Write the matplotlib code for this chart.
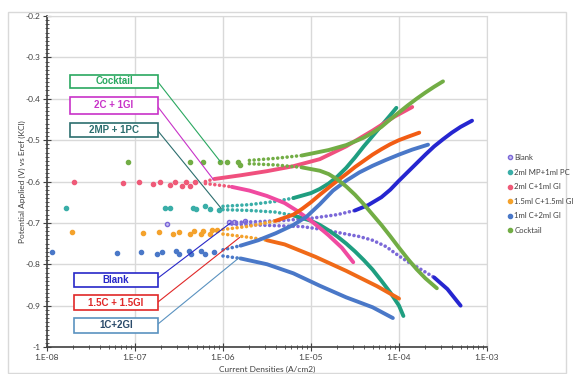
import numpy as np
import matplotlib
matplotlib.use('Agg')
import matplotlib.pyplot as plt
from matplotlib.patches import Rectangle
from matplotlib.lines import Line2D
from matplotlib.ticker import LogLocator, MultipleLocator, NullFormatter

plt.rcParams['font.family'] = ['Lato', 'DejaVu Sans']
plt.rcParams['axes.unicode_minus'] = False

W, H = 573, 374

# values: log10(current density), potential (V)
# Blank
blank_sparse_logi = [-6.64, -5.93, -5.88, -5.75]
blank_sparse_e = [-0.703, -0.699, -0.699, -0.695]
blank_an_logi = [-5.9, -5.6, -5.3, -5.0, -4.7, -4.5, -4.35, -4.2, -4.1, -4.0, -3.9, -3.8,
                 -3.7, -3.6, -3.5, -3.4, -3.3, -3.17]
blank_an_e = [-0.699, -0.697, -0.694, -0.689, -0.680, -0.670, -0.657, -0.638, -0.620, -0.598,
              -0.577, -0.556, -0.535, -0.515, -0.498, -0.482, -0.468, -0.453]
blank_ca_logi = [-5.9, -5.5, -5.1, -4.9, -4.75, -4.6, -4.45, -4.3, -4.15, -4.0, -3.9, -3.8,
                 -3.7, -3.6, -3.45, -3.3]
blank_ca_e = [-0.703, -0.706, -0.709, -0.715, -0.721, -0.727, -0.733, -0.742, -0.757, -0.780,
              -0.794, -0.806, -0.819, -0.832, -0.860, -0.900]

# 2ml MP + 1ml PC
mp_sparse_logi = [-7.78, -6.66, -6.60, -6.34, -6.31, -6.20, -6.15, -6.05]
mp_sparse_e = [-0.665, -0.663, -0.665, -0.663, -0.667, -0.660, -0.667, -0.668]
mp_an_logi = [-6.0, -5.7, -5.4, -5.2, -5.0, -4.9, -4.8, -4.7, -4.6, -4.5, -4.4, -4.3, -4.2,
              -4.1, -4.03]
mp_an_e = [-0.660, -0.656, -0.648, -0.640, -0.628, -0.618, -0.605, -0.588, -0.567, -0.542,
           -0.515, -0.490, -0.465, -0.440, -0.422]
mp_ca_logi = [-6.0, -5.7, -5.4, -5.2, -5.0, -4.9, -4.8, -4.7, -4.6, -4.5, -4.4, -4.3, -4.2,
              -4.1, -4.0, -3.95]
mp_ca_e = [-0.668, -0.670, -0.674, -0.682, -0.695, -0.705, -0.718, -0.733, -0.750, -0.769,
           -0.790, -0.813, -0.840, -0.868, -0.900, -0.925]

# 2ml C + 1ml GI
c2_sparse_logi = [-7.69, -7.14, -6.96, -6.79, -6.72, -6.60, -6.55, -6.47, -6.42, -6.38, -6.32]
c2_sparse_e = [-0.602, -0.604, -0.602, -0.606, -0.602, -0.608, -0.602, -0.610, -0.602, -0.610, -0.602]
c2_an_logi = [-6.2, -6.1, -5.8, -5.5, -5.2, -4.9, -4.6, -4.3, -4.05, -3.85]
c2_an_e = [-0.600, -0.594, -0.585, -0.575, -0.563, -0.546, -0.515, -0.477, -0.443, -0.420]
c2_ca_logi = [-6.2, -6.0, -5.9, -5.7, -5.5, -5.3, -5.15, -5.0, -4.9, -4.8, -4.65, -4.52]
c2_ca_e = [-0.605, -0.610, -0.613, -0.622, -0.635, -0.652, -0.672, -0.695, -0.712, -0.730,
           -0.760, -0.795]

# 1.5ml C + 1.5ml GI
c15_sparse_logi = [-7.72, -6.91, -6.73, -6.57, -6.50, -6.38, -6.33, -6.25, -6.23, -6.15, -6.12, -6.07]
c15_sparse_e = [-0.723, -0.725, -0.723, -0.727, -0.722, -0.727, -0.720, -0.727, -0.720, -0.727, -0.718, -0.718]
c15_an_logi = [-6.0, -5.7, -5.4, -5.2, -5.1, -5.0, -4.9, -4.8, -4.7, -4.6, -4.5, -4.4, -4.3,
               -4.2, -4.1, -4.0, -3.9, -3.77]
c15_an_e = [-0.716, -0.708, -0.695, -0.680, -0.666, -0.650, -0.632, -0.615, -0.598, -0.582,
            -0.565, -0.550, -0.535, -0.522, -0.510, -0.500, -0.492, -0.482]
c15_ca_logi = [-6.0, -5.7, -5.5, -5.3, -4.95, -4.6, -4.25, -4.0]
c15_ca_e = [-0.727, -0.735, -0.742, -0.752, -0.782, -0.816, -0.853, -0.883]

# 1ml C + 2ml GI
c1_sparse_logi = [-7.94, -7.20, -6.93, -6.75, -6.69, -6.53, -6.50, -6.39, -6.36, -6.25, -6.20, -6.10]
c1_sparse_e = [-0.771, -0.772, -0.770, -0.775, -0.770, -0.768, -0.776, -0.768, -0.776, -0.768, -0.776, -0.770]
c1_an_logi = [-6.0, -5.8, -5.6, -5.4, -5.2, -5.05, -4.9, -4.75, -4.6, -4.45, -4.3, -4.15,
              -4.0, -3.85, -3.67]
c1_an_e = [-0.765, -0.755, -0.742, -0.725, -0.705, -0.685, -0.655, -0.622, -0.598, -0.578,
           -0.562, -0.548, -0.535, -0.523, -0.511]
c1_ca_logi = [-6.0, -5.8, -5.5, -5.2, -4.9, -4.6, -4.3, -4.07]
c1_ca_e = [-0.780, -0.786, -0.800, -0.822, -0.852, -0.880, -0.904, -0.930]

# Cocktail
ck_sparse_logi = [-7.08, -6.38, -6.23, -6.03, -5.95, -5.83, -5.81]
ck_sparse_e = [-0.552, -0.552, -0.554, -0.552, -0.554, -0.552, -0.559]
ck_an_logi = [-5.7, -5.4, -5.1, -4.8, -4.6, -4.4, -4.3, -4.2, -4.1, -4.0, -3.9, -3.8, -3.7,
              -3.6, -3.5]
ck_an_e = [-0.549, -0.544, -0.537, -0.524, -0.512, -0.494, -0.482, -0.468, -0.450, -0.433,
           -0.416, -0.400, -0.385, -0.371, -0.358]
ck_ca_logi = [-5.7, -5.4, -5.1, -4.9, -4.8, -4.7, -4.6, -4.5, -4.4, -4.3, -4.2, -4.1, -4.0,
              -3.9, -3.8, -3.7, -3.57]
ck_ca_e = [-0.557, -0.560, -0.566, -0.574, -0.582, -0.595, -0.612, -0.632, -0.655, -0.680,
           -0.705, -0.732, -0.760, -0.787, -0.812, -0.834, -0.858]

legend_labels = ['Blank', '2ml MP+1ml PC', '2ml C+1ml GI', '1.5ml C+1.5ml GI',
                 '1ml C+2ml GI', 'Cocktail']

fig = plt.figure(figsize=(W / 100, H / 100), dpi=100)
ax = fig.add_axes([47 / W, 1 - 347 / H, 440 / W, 331 / H])


def sparse(logi, e, col, **kw):
    ax.plot(10.0 ** np.array(logi), e, 'o', ms=3, color=col, mec=col, zorder=3, **kw)


def branch(logi, e, n_dot, dot_col, solid_col):
    x = 10.0 ** np.array(logi)
    e = np.array(e)
    if n_dot > 0:
        ax.plot(x[:n_dot + 1], e[:n_dot + 1], color=dot_col, lw=2.6,
                linestyle=(0, (0.01, 1.3)), dash_capstyle='round', zorder=3)
    ax.plot(x[n_dot:], e[n_dot:], color=solid_col, lw=2.8,
            solid_capstyle='round', solid_joinstyle='round', zorder=3)


# Blank
sparse(blank_sparse_logi, blank_sparse_e, '#7b68d8', mfc='#c8c0f0')
branch(blank_an_logi, blank_an_e, 5, '#7b68d8', '#2626d0')
branch(blank_ca_logi, blank_ca_e, 13, '#7b68d8', '#2626d0')
# MP + PC
sparse(mp_sparse_logi, mp_sparse_e, '#3aaea8')
branch(mp_an_logi, mp_an_e, 3, '#3aaea8', '#1f9e80')
branch(mp_ca_logi, mp_ca_e, 3, '#3aaea8', '#1f9e80')
# 2C + 1GI
sparse(c2_sparse_logi, c2_sparse_e, '#ef5a78')
branch(c2_an_logi, c2_an_e, 1, '#ef5a78', '#f0507e')
branch(c2_ca_logi, c2_ca_e, 2, '#ef5a78', '#f04aa0')
# 1.5C + 1.5GI
sparse(c15_sparse_logi, c15_sparse_e, '#f4a22c')
branch(c15_an_logi, c15_an_e, 2, '#f4a22c', '#f25c14')
branch(c15_ca_logi, c15_ca_e, 2, '#f4a22c', '#f06a18')
# 1C + 2GI
sparse(c1_sparse_logi, c1_sparse_e, '#4a78c8')
branch(c1_an_logi, c1_an_e, 1, '#4a78c8', '#4a78c8')
branch(c1_ca_logi, c1_ca_e, 1, '#4a78c8', '#4a78c8')
# Cocktail
sparse(ck_sparse_logi, ck_sparse_e, '#72ad45')
branch(ck_an_logi, ck_an_e, 2, '#72ad45', '#72ad45')
branch(ck_ca_logi, ck_ca_e, 2, '#72ad45', '#72ad45')

ax.set_xscale('log')
ax.set_xlim(1e-8, 1e-3)
ax.set_ylim(-1, -0.2)
ax.set_xticks([1e-8, 1e-7, 1e-6, 1e-5, 1e-4, 1e-3])
ax.set_xticklabels(['1.E-08', '1.E-07', '1.E-06', '1.E-05', '1.E-04', '1.E-03'])
ax.xaxis.set_minor_locator(LogLocator(base=10, subs=range(2, 10)))
ax.xaxis.set_minor_formatter(NullFormatter())
ax.set_yticks(np.arange(-1.0, -0.19, 0.1))
ax.set_yticklabels(['-1', '-0.9', '-0.8', '-0.7', '-0.6', '-0.5', '-0.4', '-0.3', '-0.2'])
ax.yaxis.set_minor_locator(MultipleLocator(0.01))
ax.tick_params(which='major', direction='inout', length=6, width=0.8,
               color='#404040', labelsize=6, labelcolor='#404040', pad=2)
ax.tick_params(which='minor', direction='inout', length=3.5, width=0.6, color='#404040')
ax.grid(which='major', color='#d9d9d9', lw=1)
ax.set_axisbelow(True)
for s in ['top', 'right']:
    ax.spines[s].set_color('#d9d9d9')
for s in ['left', 'bottom']:
    ax.spines[s].set_color('#404040')
    ax.spines[s].set_linewidth(1.2)

ax.set_xlabel('Current Densities (A/cm2)', fontsize=6, color='#404040')
ax.xaxis.set_label_coords(0.5, -0.057)
ax.set_ylabel('Potential Applied (V) vs Eref (KCl)', fontsize=6, color='#404040')
ax.yaxis.set_label_coords(-0.048, 0.5)

# outer chart border
fig.add_artist(Rectangle((8 / W, 1 - 373 / H), 558 / W, 361 / H, transform=fig.transFigure,
                         fill=False, edgecolor='#d9d9d9', lw=1))

# callout boxes: (text, text colour, border colour, box px, line start px, target)
callouts = [
    ('Cocktail', '#2aa860', '#2aa860', (70, 75, 158, 88), (158, 82), (10 ** -6.03, -0.552)),
    ('2C + 1GI', '#c832c8', '#c832c8', (70, 97, 158, 114), (158, 107), (10 ** -6.11, -0.595)),
    ('2MP + 1PC', '#2c6e6e', '#2c6e6e', (70, 123, 158, 137), (158, 131), (10 ** -6.02, -0.665)),
    ('Blank', '#2828c8', '#2828c8', (74, 273, 158, 287), (158, 278), (10 ** -5.92, -0.701)),
    ('1.5C + 1.5GI', '#e02828', '#e02828', (74, 295, 158, 310), (158, 302), (10 ** -5.81, -0.735)),
    ('1C+2GI', '#2a4a6a', '#5a92c0', (74, 318, 158, 333), (158, 324), (10 ** -5.81, -0.783)),
]
for txt, tcol, bcol, (x0, y0, x1, y1), (lx, ly), tgt in callouts:
    fig.add_artist(Rectangle((x0 / W, 1 - y1 / H), (x1 - x0) / W, (y1 - y0) / H,
                             transform=fig.transFigure, facecolor='white',
                             edgecolor=bcol, lw=1.2, zorder=5))
    fig.text((x0 + x1) / 2 / W, 1 - (y0 + y1) / 2 / H, txt, color=tcol, fontsize=7,
             fontweight='bold', family=['Liberation Sans', 'DejaVu Sans'],
             ha='center', va='center', zorder=6)
    ax.annotate('', xy=tgt, xycoords='data', xytext=(lx / W, 1 - ly / H),
                textcoords='figure fraction',
                arrowprops=dict(arrowstyle='-', color=bcol, lw=0.8, shrinkA=0, shrinkB=0),
                zorder=4, annotation_clip=False)

# legend
handles = [
    Line2D([], [], ls='none', marker='o', ms=3, mfc='#c8c0f0', mec='#7b68d8'),
    Line2D([], [], ls='none', marker='o', ms=3, color='#3aaea8'),
    Line2D([], [], ls='none', marker='o', ms=3, color='#ef5a78'),
    Line2D([], [], ls='none', marker='o', ms=3, color='#f4a22c'),
    Line2D([], [], ls='none', marker='o', ms=3, color='#4a78c8'),
    Line2D([], [], ls='none', marker='o', ms=3, color='#72ad45'),
]
fig.legend(handles, legend_labels, loc='upper left', bbox_to_anchor=(508 / W, 1 - 154 / H),
           frameon=False, fontsize=5.6, handlelength=0.4, handletextpad=0.4,
           labelspacing=0.98, borderaxespad=0, borderpad=0, labelcolor='#404040')

fig.savefig('out.png', dpi=100)
